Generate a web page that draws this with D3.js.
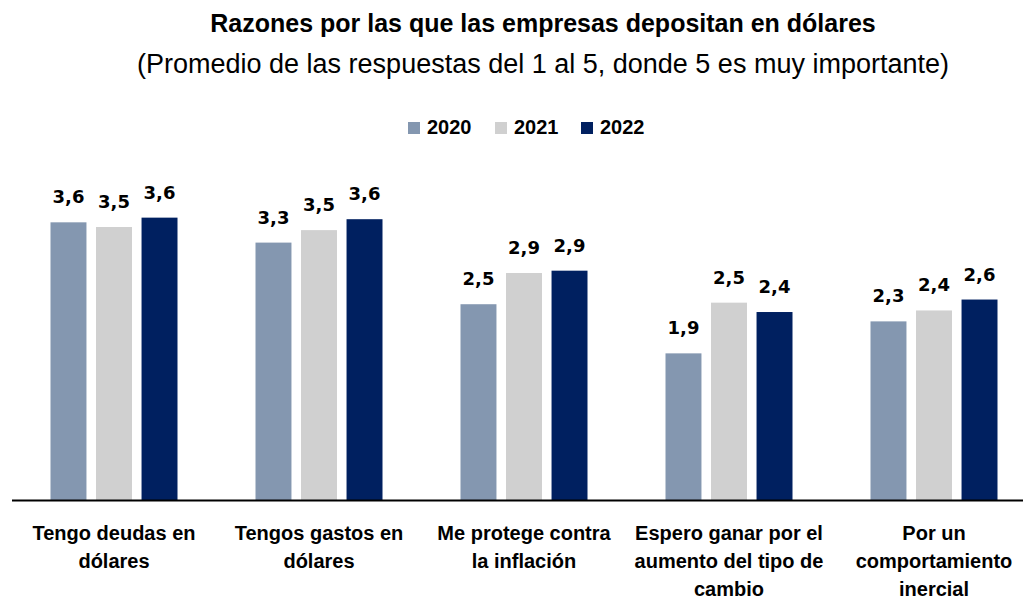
<!DOCTYPE html>
<html lang="es">
	<head>
		<meta charset="UTF-8" />
		<title>Razones por las que las empresas depositan en dólares</title>
		<style>
			body { margin: 0; background: #fff; }
			text { font-family: 'Liberation Sans', Arial, sans-serif; fill: #000; }
		</style>
	</head>
	<body>
		<svg id="svg" width="1023" height="599"></svg>
		<script src="https://d3js.org/d3.v7.min.js"></script>
		<script>
			// Data
			const categories = [
				'Tengo deudas en dólares',
				'Tengos gastos en dólares',
				'Me protege contra la inflación',
				'Espero ganar por el aumento del tipo de cambio',
				'Por un comportamiento inercial',
			];
			// label lines as they wrap in the picture
			const categoryLines = [
				['Tengo deudas en', 'dólares'],
				['Tengos gastos en', 'dólares'],
				['Me protege contra', 'la inflación'],
				['Espero ganar por el', 'aumento del tipo de', 'cambio'],
				['Por un', 'comportamiento', 'inercial'],
			];
			const years = ['2020', '2021', '2022'];
			const values2020 = [3.56, 3.3, 2.51, 1.88, 2.29];
			const values2021 = [3.5, 3.46, 2.91, 2.53, 2.43];
			const values2022 = [3.62, 3.6, 2.94, 2.41, 2.57];
			const colors = ['#8497B0', '#D0D0D0', '#002060'];

			const series = [values2020, values2021, values2022];

			// Sizes
			const width = 1023;
			const height = 599;
			const baseY = 500;

			const svg = d3.select('#svg');

			// Scales
			const x0 = d3
				.scaleBand()
				.domain(categories)
				.range([11.5, 1036.5])
				.padding(0);

			const groupWidth = 127;
			const x1 = d3
				.scaleBand()
				.domain(years)
				.range([0, groupWidth])
				.paddingInner(0.21)
				.paddingOuter(0);

			const y = d3.scaleLinear().domain([0, 4.5]).range([baseY, 149]);

			const color = d3.scaleOrdinal().domain(years).range(colors);
			const fmt = (v) => d3.format('.1f')(v).replace('.', ',');

			// Title
			svg
				.append('text')
				.attr('x', 543)
				.attr('y', 32)
				.attr('text-anchor', 'middle')
				.style('font-size', '25px')
				.style('font-weight', 'bold')
				.text('Razones por las que las empresas depositan en dólares');

			svg
				.append('text')
				.attr('x', 543)
				.attr('y', 73)
				.attr('text-anchor', 'middle')
				.style('font-size', '27px')
				.text('(Promedio de las respuestas del 1 al 5, donde 5 es muy importante)');

			// Legend
			const legendX = [408, 495, 581];
			const legend = svg
				.selectAll('.legend')
				.data(years)
				.join('g')
				.attr('class', 'legend')
				.attr('transform', (d, i) => `translate(${legendX[i]}, 122)`);
			legend
				.append('rect')
				.attr('width', 12)
				.attr('height', 12)
				.attr('fill', (d) => color(d));
			legend
				.append('text')
				.attr('x', 19)
				.attr('y', 12)
				.style('font-size', '20px')
				.style('font-weight', 'bold')
				.text((d) => d);

			// Bars
			const rows = categories.map((c, ci) => ({
				category: c,
				items: years.map((yr, si) => ({ year: yr, value: series[si][ci] })),
			}));

			const groups = svg
				.selectAll('.group')
				.data(rows)
				.join('g')
				.attr('class', 'group')
				.attr(
					'transform',
					(d) =>
						`translate(${x0(d.category) + (x0.bandwidth() - groupWidth) / 2}, 0)`
				);

			groups
				.selectAll('rect')
				.data((d) => d.items)
				.join('rect')
				.attr('x', (d) => x1(d.year))
				.attr('y', (d) => y(d.value))
				.attr('width', x1.bandwidth())
				.attr('height', (d) => baseY - y(d.value))
				.attr('fill', (d) => color(d.year));

			groups
				.selectAll('.val')
				.data((d) => d.items)
				.join('text')
				.attr('class', 'val')
				.attr('x', (d) => x1(d.year) + x1.bandwidth() / 2)
				.attr('y', (d) => y(d.value) - 19)
				.attr('text-anchor', 'middle')
				.style('font-family', "'DejaVu Sans', Verdana, sans-serif")
				.style('font-size', '18px')
				.style('font-weight', 'bold')
				.text((d) => fmt(d.value));

			// Axis
			const bottomAxis = d3.axisBottom(x0).tickSize(0).tickSizeOuter(0);
			const axisG = svg
				.append('g')
				.attr('transform', `translate(0, ${baseY})`)
				.call(bottomAxis);
			axisG.select('.domain').attr('stroke', '#000').attr('stroke-width', 2.2);
			axisG.selectAll('.tick text').remove();
			axisG
				.selectAll('.tick')
				.append('text')
				.attr('text-anchor', 'middle')
				.style('font-size', '20px')
				.style('font-weight', 'bold')
				.attr('fill', '#000')
				.each(function (d) {
					const lines = categoryLines[categories.indexOf(d)];
					d3.select(this)
						.selectAll('tspan')
						.data(lines)
						.join('tspan')
						.attr('x', 0)
						.attr('y', (l, i) => 40 + i * 28)
						.text((l) => l);
				});
		</script>
	</body>
</html>
